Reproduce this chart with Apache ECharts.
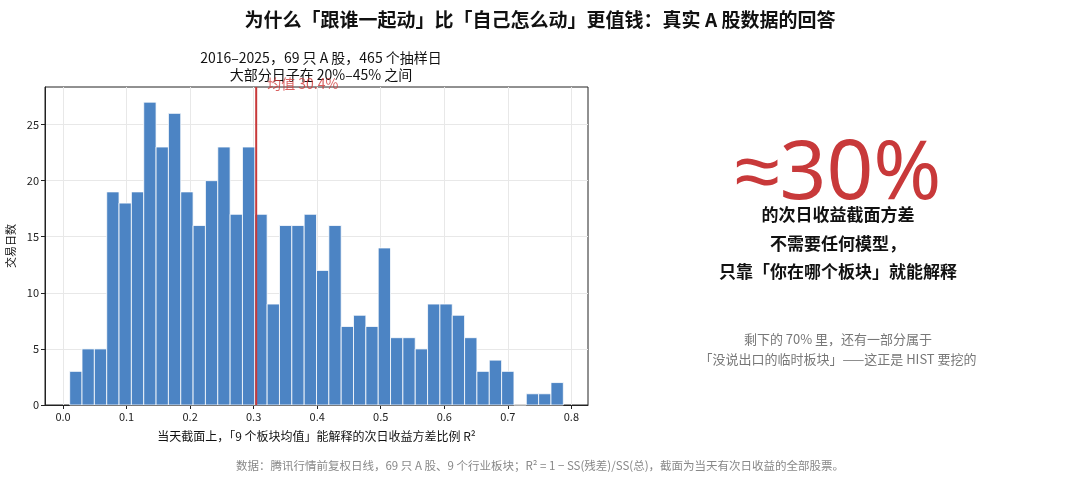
<!DOCTYPE html>
<html>
<head>
<meta charset="utf-8">
<title>R2 histogram</title>
<script src="https://cdn.jsdelivr.net/npm/echarts@6/dist/echarts.min.js"></script>
<style>
  html, body { margin: 0; padding: 0; background: #fff; }
  #main { width: 1080px; height: 477px; }
</style>
</head>
<body>
<div id="main"></div>
<script>
// histogram bins (R², 40 bins) and counts
var binStart = 0.0105;
var binWidth = 0.01942;
var counts = [3, 5, 5, 19, 18, 19, 27, 23, 26, 19,
              16, 20, 23, 17, 23, 17, 9, 16, 16, 17,
              12, 16, 7, 8, 7, 14, 6, 6, 5, 9,
              9, 8, 6, 3, 4, 3, 0, 1, 1, 2];
var meanR2 = 0.304;
var xTicks = [0, 0.1, 0.2, 0.3, 0.4, 0.5, 0.6, 0.7, 0.8];
var yTicks = [0, 5, 10, 15, 20, 25];

var FONT = '"Noto Sans CJK SC", "Noto Sans", sans-serif';

var bins = [];
for (var i = 0; i < counts.length; i++) {
  var a = binStart + i * binWidth;
  bins.push([a, a + binWidth, counts[i]]);
}
var xMin = binStart - 0.05 * (counts.length * binWidth);
var xMax = binStart + counts.length * binWidth + 0.05 * (counts.length * binWidth);
var yMax = Math.max.apply(null, counts) * 1.05;

var myChart = echarts.init(document.getElementById('main'));
var option = {
  backgroundColor: '#fff',
  animation: false,
  textStyle: { fontFamily: FONT },
  title: [
    { text: '为什么「跟谁一起动」比「自己怎么动」更值钱：真实 A 股数据的回答',
      left: 'center', top: 5,
      textStyle: { fontFamily: FONT, fontSize: 19, fontWeight: 'bold', color: '#111' } },
    { text: '2016–2025，69 只 A 股，465 个抽样日\n大部分日子在 20%–45% 之间',
      left: 316, top: 44, textAlign: 'center',
      textStyle: { fontFamily: FONT, fontSize: 14, fontWeight: 'normal', color: '#111', lineHeight: 17 } },
    { text: '数据：腾讯行情前复权日线，69 只 A 股、9 个行业板块；R² = 1 − SS(残差)/SS(总)，截面为当天有次日收益的全部股票。',
      left: 'center', top: 455,
      textStyle: { fontFamily: FONT, fontSize: 11.5, fontWeight: 'normal', color: '#888' } }
  ],
  grid: { left: 45, right: 492, top: 87, bottom: 72, outerBoundsMode: 'none',
    show: true, borderColor: '#222', borderWidth: 1, backgroundColor: 'transparent' },
  xAxis: {
    type: 'value', min: xMin, max: xMax,
    name: '当天截面上，「9 个板块均值」能解释的次日收益方差比例 R²',
    nameLocation: 'middle', nameGap: 25,
    nameTextStyle: { fontFamily: FONT, fontSize: 12, color: '#111' },
    axisLine: { show: true, onZero: false, lineStyle: { color: '#222' } },
    axisTick: { show: true, length: 4, customValues: xTicks, lineStyle: { color: '#222' } },
    axisLabel: { customValues: xTicks, fontSize: 11, color: '#222', margin: 6,
      formatter: function (v) { return v.toFixed(1); } },
    splitLine: { show: true, lineStyle: { color: '#e8e8e8', width: 1 } }
  },
  yAxis: {
    type: 'value', min: 0, max: yMax,
    name: '交易日数', nameLocation: 'middle', nameGap: 28, nameRotate: 90,
    nameTextStyle: { fontFamily: FONT, fontSize: 11, color: '#111' },
    axisLine: { show: true, onZero: false, lineStyle: { color: '#222' } },
    axisTick: { show: true, length: 4, customValues: yTicks, lineStyle: { color: '#222' } },
    axisLabel: { customValues: yTicks, fontSize: 11, color: '#222', margin: 6 },
    splitLine: { show: true, lineStyle: { color: '#e8e8e8', width: 1 } }
  },
  series: [
    {
      type: 'custom',
      data: bins,
      renderItem: function (params, api) {
        var p0 = api.coord([api.value(0), api.value(2)]);
        var p1 = api.coord([api.value(1), 0]);
        return {
          type: 'rect',
          shape: { x: p0[0], y: p0[1], width: p1[0] - p0[0], height: p1[1] - p0[1] },
          style: { fill: '#4c84c4', stroke: '#ffffff', lineWidth: 0.8 }
        };
      },
      encode: { x: [0, 1], y: 2 },
      z: 2
    },
    {
      type: 'line',
      data: [[meanR2, 0], [meanR2, yMax]],
      symbol: 'none',
      lineStyle: { color: '#c8393a', width: 2 },
      z: 3
    },
    {
      type: 'scatter',
      data: [[meanR2, yMax]],
      symbolSize: 0,
      zlevel: 1,
      label: { show: true, position: 'right', distance: 11, offset: [0, -3],
        formatter: '均值 30.4%', color: '#d03a3a', fontSize: 14, fontFamily: FONT },
      z: 10
    }
  ],
  graphic: [
    { type: 'text', x: 838, y: 176, style: { text: '≈30%', textAlign: 'center', textVerticalAlign: 'middle',
        font: '82px "Noto Sans", sans-serif', fill: '#c8393a' } },
    { type: 'text', x: 838, y: 215, style: { text: '的次日收益截面方差', textAlign: 'center', textVerticalAlign: 'middle',
        font: 'bold 17px ' + FONT, fill: '#111' } },
    { type: 'text', x: 838, y: 244, style: { text: '不需要任何模型，', textAlign: 'center', textVerticalAlign: 'middle',
        font: 'bold 17px ' + FONT, fill: '#111' } },
    { type: 'text', x: 838, y: 272, style: { text: '只靠「你在哪个板块」就能解释', textAlign: 'center', textVerticalAlign: 'middle',
        font: 'bold 17px ' + FONT, fill: '#111' } },
    { type: 'text', x: 838, y: 339, style: { text: '剩下的 70% 里，还有一部分属于', textAlign: 'center', textVerticalAlign: 'middle',
        font: '13px ' + FONT, fill: '#777' } },
    { type: 'text', x: 838, y: 359, style: { text: '「没说出口的临时板块」——这正是 HIST 要挖的', textAlign: 'center', textVerticalAlign: 'middle',
        font: '13px ' + FONT, fill: '#777' } }
  ]
};
myChart.setOption(option);
window.onresize = myChart.resize;
</script>
</body>
</html>
